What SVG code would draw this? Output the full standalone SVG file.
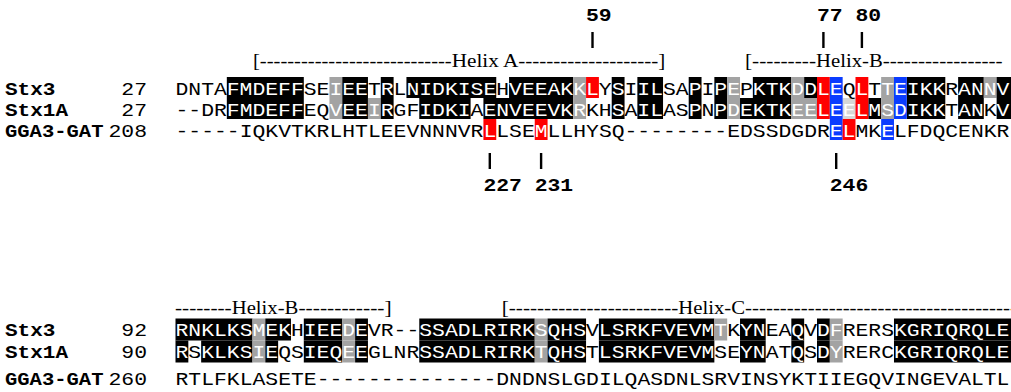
<svg xmlns="http://www.w3.org/2000/svg" width="1011" height="392" viewBox="0 0 1011 392">
<style>
.k{fill:#000}.g{fill:#a3a3a3}.lg{fill:#d6d6d6}.r{fill:#ff0000}.b{fill:#0a3cff}
.seq{font-family:"Liberation Mono","DejaVu Sans Mono",monospace;font-size:19px;fill:#000}
.lab{font-family:"Liberation Mono","DejaVu Sans Mono",monospace;font-size:19px;font-weight:bold;fill:#000}
.num{font-family:"Liberation Mono","DejaVu Sans Mono",monospace;font-size:19px;fill:#000}
.hx{font-family:"Liberation Serif","Times New Roman",serif;font-size:18px;fill:#000}
.w{fill:#fff}
.tick{stroke:#000;stroke-width:2.4}
</style>
<rect width="1011" height="392" fill="#fff"/>

<g id="top-helix-labels" class="hx">
<text x="253" y="67" textLength="198.7" lengthAdjust="spacingAndGlyphs">[----------------------------</text>
<text x="451.7" y="67" textLength="66.6" lengthAdjust="spacingAndGlyphs">Helix A</text>
<text x="518.3" y="67" textLength="147" lengthAdjust="spacingAndGlyphs">--------------------]</text>
<text x="745" y="67" textLength="71" lengthAdjust="spacingAndGlyphs">[---------</text>
<text x="816" y="67" textLength="66.7" lengthAdjust="spacingAndGlyphs">Helix-B</text>
<text x="882.7" y="67" textLength="120" lengthAdjust="spacingAndGlyphs">-----------------</text>
</g>

<g id="position-marks">
<g class="lab">
<text x="586" y="21" textLength="25.7" lengthAdjust="spacingAndGlyphs">59</text>
<text x="817" y="21" textLength="25.7" lengthAdjust="spacingAndGlyphs">77</text>
<text x="855.5" y="21" textLength="25.7" lengthAdjust="spacingAndGlyphs">80</text>
<text x="483.4" y="191" textLength="38.5" lengthAdjust="spacingAndGlyphs">227</text>
<text x="534.7" y="191" textLength="38.5" lengthAdjust="spacingAndGlyphs">231</text>
<text x="829.8" y="191" textLength="38.5" lengthAdjust="spacingAndGlyphs">246</text>
</g>
<g id="connectors">
<line class="tick" x1="592.5" y1="32" x2="592.5" y2="48"/>
<line class="tick" x1="823.4" y1="32" x2="823.4" y2="48"/>
<line class="tick" x1="861.9" y1="32" x2="861.9" y2="48"/>
<line class="tick" x1="489.8" y1="153" x2="489.8" y2="169"/>
<line class="tick" x1="541.1" y1="153" x2="541.1" y2="169"/>
<line class="tick" x1="836.2" y1="153" x2="836.2" y2="169"/>
</g>
</g>

<g id="top-shading">
<g transform="translate(0,77)">
<rect class="k" x="226.82" width="76.98" height="21"/>
<rect class="g" x="329.46" width="12.83" height="21"/>
<rect class="k" x="342.29" width="25.66" height="21"/>
<rect class="k" x="380.78" width="12.83" height="21"/>
<rect class="k" x="406.44" width="89.81" height="21"/>
<rect class="k" x="509.08" width="64.15" height="21"/>
<rect class="g" x="573.23" width="12.83" height="21"/>
<rect class="k" x="611.72" width="12.83" height="21"/>
<rect class="k" x="637.38" width="25.66" height="21"/>
<rect class="k" x="688.7" width="12.83" height="21"/>
<rect class="k" x="714.36" width="12.83" height="21"/>
<rect class="g" x="727.19" width="12.83" height="21"/>
<rect class="k" x="752.85" width="38.49" height="21"/>
<rect class="g" x="791.34" width="12.83" height="21"/>
<rect class="k" x="804.17" width="12.83" height="21"/>
<rect class="g" x="881.15" width="12.83" height="21"/>
<rect class="k" x="906.81" width="38.49" height="21"/>
<rect class="k" x="958.13" width="25.66" height="21"/>
<rect class="g" x="983.79" width="12.83" height="21"/>
<rect class="k" x="996.62" width="14.38" height="21"/>
<rect class="r" x="586.06" width="12.83" height="21"/>
</g>
<g transform="translate(0,98)">
<rect class="k" x="226.82" width="76.98" height="21"/>
<rect class="g" x="329.46" width="12.83" height="21"/>
<rect class="k" x="342.29" width="25.66" height="21"/>
<rect class="g" x="367.95" width="12.83" height="21"/>
<rect class="k" x="380.78" width="12.83" height="21"/>
<rect class="k" x="419.27" width="51.32" height="21"/>
<rect class="k" x="483.42" width="89.81" height="21"/>
<rect class="g" x="573.23" width="12.83" height="21"/>
<rect class="k" x="611.72" width="12.83" height="21"/>
<rect class="k" x="637.38" width="25.66" height="21"/>
<rect class="k" x="688.7" width="12.83" height="21"/>
<rect class="k" x="714.36" width="12.83" height="21"/>
<rect class="g" x="727.19" width="12.83" height="21"/>
<rect class="k" x="740.02" width="51.32" height="21"/>
<rect class="g" x="791.34" width="25.66" height="21"/>
<rect class="lg" x="842.66" width="12.83" height="21"/>
<rect class="k" x="868.32" width="12.83" height="21"/>
<rect class="g" x="881.15" width="12.83" height="21"/>
<rect class="k" x="906.81" width="38.49" height="21"/>
<rect class="k" x="958.13" width="25.66" height="21"/>
<rect class="k" x="996.62" width="14.38" height="21"/>
</g>
<rect class="r" x="817" y="77" width="12.83" height="42"/>
<rect class="b" x="829.83" y="77" width="12.83" height="42"/>
<rect class="r" x="855.49" y="77" width="12.83" height="42"/>
<rect class="b" x="893.98" y="77" width="12.83" height="42"/>
<g transform="translate(0,119)">
<rect class="r" x="483.42" width="12.83" height="21"/>
<rect class="r" x="534.74" width="12.83" height="21"/>
<rect class="b" x="829.83" width="12.83" height="21"/>
<rect class="r" x="842.66" width="12.83" height="21"/>
<rect class="b" x="881.15" width="12.83" height="21"/>
</g>
</g>

<g id="top-labels">
<text class="lab" x="5" y="94.5" textLength="50.5" lengthAdjust="spacingAndGlyphs">Stx3</text>
<text class="lab" x="5" y="115.5" textLength="63" lengthAdjust="spacingAndGlyphs">Stx1A</text>
<text class="lab" x="5" y="136.5" textLength="98.5" lengthAdjust="spacingAndGlyphs">GGA3-GAT</text>
<text class="num" x="121.3" y="94.5" textLength="25.7" lengthAdjust="spacingAndGlyphs">27</text>
<text class="num" x="121.3" y="115.5" textLength="25.7" lengthAdjust="spacingAndGlyphs">27</text>
<text class="num" x="108.5" y="136.5" textLength="38.5" lengthAdjust="spacingAndGlyphs">208</text>
</g>

<g id="top-sequences" class="seq">
<text x="175.5" y="94.5" textLength="833.95" lengthAdjust="spacingAndGlyphs">DNTA<tspan class="w">FMDEFF</tspan>SE<tspan class="w">IEE</tspan>T<tspan class="w">R</tspan>L<tspan class="w">NIDKISE</tspan>H<tspan class="w">VEEAKKL</tspan>Y<tspan class="w">S</tspan>I<tspan class="w">IL</tspan>SA<tspan class="w">P</tspan>I<tspan class="w">PE</tspan>P<tspan class="w">KTKDDLE</tspan>Q<tspan class="w">L</tspan>T<tspan class="w">TEIKK</tspan>R<tspan class="w">ANNV</tspan></text>
<text x="175.5" y="115.5" textLength="833.95" lengthAdjust="spacingAndGlyphs">--DR<tspan class="w">FMDEFF</tspan>EQ<tspan class="w">VEEIR</tspan>GF<tspan class="w">IDKI</tspan>A<tspan class="w">ENVEEVKR</tspan>KH<tspan class="w">S</tspan>A<tspan class="w">IL</tspan>AS<tspan class="w">P</tspan>N<tspan class="w">PDEKTKEELEELMSDIKK</tspan>T<tspan class="w">AN</tspan>K<tspan class="w">V</tspan></text>
<text x="175.5" y="136.5" textLength="833.95" lengthAdjust="spacingAndGlyphs">-----IQKVTKRLHTLEEVNNNVR<tspan class="w">L</tspan>LSE<tspan class="w">M</tspan>LLHYSQ--------EDSSDGDR<tspan class="w">EL</tspan>MK<tspan class="w">E</tspan>LFDQCENKR</text>
</g>

<g id="bottom-helix-labels" class="hx">
<text x="175" y="314" textLength="56.7" lengthAdjust="spacingAndGlyphs">--------</text>
<text x="231.7" y="314" textLength="66.7" lengthAdjust="spacingAndGlyphs">Helix-B</text>
<text x="298.4" y="314" textLength="93.3" lengthAdjust="spacingAndGlyphs">------------]</text>
<text x="501.7" y="314" textLength="176.6" lengthAdjust="spacingAndGlyphs">[------------------------</text>
<text x="678.3" y="314" textLength="66.7" lengthAdjust="spacingAndGlyphs">Helix-C</text>
<text x="745" y="314" textLength="272" lengthAdjust="spacingAndGlyphs">---------------------------------------</text>
</g>

<g id="bottom-shading">
<g transform="translate(0,318.5)">
<rect class="k" x="175.5" width="76.98" height="22"/>
<rect class="g" x="252.48" width="12.83" height="22"/>
<rect class="k" x="265.31" width="25.66" height="22"/>
<rect class="k" x="303.8" width="38.49" height="22"/>
<rect class="g" x="342.29" width="12.83" height="22"/>
<rect class="k" x="355.12" width="12.83" height="22"/>
<rect class="k" x="419.27" width="115.47" height="22"/>
<rect class="g" x="534.74" width="12.83" height="22"/>
<rect class="k" x="547.57" width="38.49" height="22"/>
<rect class="k" x="598.89" width="115.47" height="22"/>
<rect class="g" x="714.36" width="12.83" height="22"/>
<rect class="k" x="740.02" width="25.66" height="22"/>
<rect class="k" x="791.34" width="12.83" height="22"/>
<rect class="k" x="817" width="12.83" height="22"/>
<rect class="g" x="829.83" width="12.83" height="22"/>
<rect class="k" x="893.98" width="117.02" height="22"/>
</g>
<g transform="translate(0,340.5)">
<rect class="k" x="175.5" width="12.83" height="22"/>
<rect class="k" x="201.16" width="51.32" height="22"/>
<rect class="g" x="252.48" width="12.83" height="22"/>
<rect class="k" x="265.31" width="12.83" height="22"/>
<rect class="k" x="303.8" width="38.49" height="22"/>
<rect class="g" x="342.29" width="12.83" height="22"/>
<rect class="k" x="355.12" width="12.83" height="22"/>
<rect class="k" x="419.27" width="115.47" height="22"/>
<rect class="g" x="534.74" width="12.83" height="22"/>
<rect class="k" x="547.57" width="38.49" height="22"/>
<rect class="k" x="598.89" width="115.47" height="22"/>
<rect class="k" x="740.02" width="25.66" height="22"/>
<rect class="k" x="791.34" width="12.83" height="22"/>
<rect class="k" x="817" width="12.83" height="22"/>
<rect class="g" x="829.83" width="12.83" height="22"/>
<rect class="k" x="893.98" width="117.02" height="22"/>
</g>
</g>

<g id="bottom-labels">
<text class="lab" x="5" y="336" textLength="50.5" lengthAdjust="spacingAndGlyphs">Stx3</text>
<text class="lab" x="5" y="358" textLength="63" lengthAdjust="spacingAndGlyphs">Stx1A</text>
<text class="lab" x="5" y="385" textLength="98.5" lengthAdjust="spacingAndGlyphs">GGA3-GAT</text>
<text class="num" x="121.3" y="336" textLength="25.7" lengthAdjust="spacingAndGlyphs">92</text>
<text class="num" x="121.3" y="358" textLength="25.7" lengthAdjust="spacingAndGlyphs">90</text>
<text class="num" x="108.5" y="385" textLength="38.5" lengthAdjust="spacingAndGlyphs">260</text>
</g>

<g id="bottom-sequences" class="seq">
<text x="175.5" y="336" textLength="833.95" lengthAdjust="spacingAndGlyphs"><tspan class="w">RNKLKSMEK</tspan>H<tspan class="w">IEEDE</tspan>VR--<tspan class="w">SSADLRIRKSQHS</tspan>V<tspan class="w">LSRKFVEVMT</tspan>K<tspan class="w">YN</tspan>EA<tspan class="w">Q</tspan>V<tspan class="w">DF</tspan>RERS<tspan class="w">KGRIQRQLE</tspan></text>
<text x="175.5" y="358" textLength="833.95" lengthAdjust="spacingAndGlyphs"><tspan class="w">R</tspan>S<tspan class="w">KLKSIE</tspan>QS<tspan class="w">IEQEE</tspan>GLNR<tspan class="w">SSADLRIRKTQHS</tspan>T<tspan class="w">LSRKFVEVM</tspan>SE<tspan class="w">YN</tspan>AT<tspan class="w">Q</tspan>S<tspan class="w">DY</tspan>RERC<tspan class="w">KGRIQRQLE</tspan></text>
<text x="175.5" y="385" textLength="833.95" lengthAdjust="spacingAndGlyphs">RTLFKLASETE--------------DNDNSLGDILQASDNLSRVINSYKTIIEGQVINGEVALTL</text>
</g>
</svg>
